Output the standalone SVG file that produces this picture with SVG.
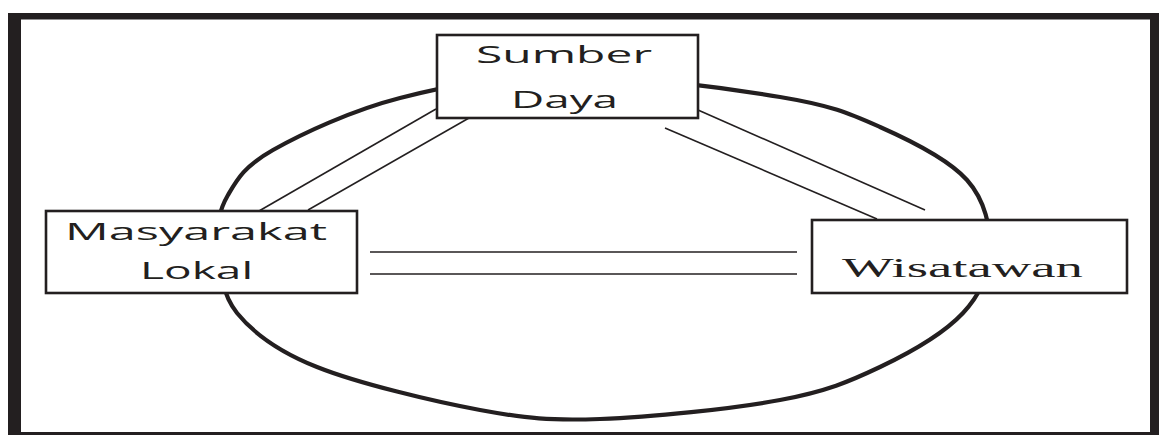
<svg xmlns="http://www.w3.org/2000/svg" width="1159" height="435" viewBox="0 0 1159 435">
<style>
.frame{fill:#231f20}
.ring{fill:none;stroke:#231f20;stroke-width:4.2;stroke-linejoin:round}
.conn line{stroke:#231f20;stroke-width:1.6}
.box{fill:#fff;stroke:#231f20;stroke-width:2.6}
.sans{font-family:"Open Sans","Noto Sans",sans-serif;font-size:24px;fill:#231f20}
.serif{font-family:"Liberation Serif","DejaVu Serif",serif;font-size:27px;fill:#231f20}
</style>
<rect width="1159" height="435" fill="#fff"/>
<g id="frame">
<rect class="frame" x="8" y="13" width="1151" height="6.5"/>
<rect class="frame" x="8" y="13" width="13" height="422"/>
<rect class="frame" x="1150" y="13" width="9" height="422"/>
<rect class="frame" x="8" y="432" width="1151" height="3"/>
</g>
<path id="ring" class="ring" d="M218,245 C216.5,225.3 218.8,210.8 228,195 C237.2,179.2 244.3,166.2 273,150 C301.7,133.8 351.3,110.5 400,98 C448.7,85.5 501.7,75.2 565,75 C628.3,74.8 727.5,88.3 780,97 C832.5,105.7 848.8,113.2 880,127 C911.2,140.8 948.7,159.5 967,180 C985.3,200.5 990.7,227.8 990,250 C989.3,272.2 981.3,293.5 963,313 C944.7,332.5 910.5,352.5 880,367 C849.5,381.5 826.7,391.3 780,400 C733.3,408.7 650,417.3 600,419 C550,420.7 527.2,418.7 480,410 C432.8,401.3 357.5,383.2 317,367 C276.5,350.8 253.5,333.3 237,313 C220.5,292.7 219.5,264.7 218,245 Z"/>
<g id="connectors" class="conn">
<line x1="259" y1="211" x2="436" y2="109"/>
<line x1="308" y1="210" x2="469" y2="118"/>
<line x1="698" y1="110" x2="925" y2="210"/>
<line x1="665" y1="128" x2="877" y2="219"/>
<line x1="370" y1="252" x2="797" y2="252"/>
<line x1="370" y1="274" x2="797" y2="274"/>
</g>
<g id="sumber-daya">
<rect class="box" x="437" y="35" width="261" height="83"/>
<text class="sans" x="476" y="63" textLength="176" lengthAdjust="spacingAndGlyphs">Sumber</text>
<text class="sans" x="511" y="108" textLength="107" lengthAdjust="spacingAndGlyphs">Daya</text>
</g>
<g id="masyarakat-lokal">
<rect class="box" x="46" y="211" width="311" height="82"/>
<text class="sans" x="65" y="240" textLength="262" lengthAdjust="spacingAndGlyphs">Masyarakat</text>
<text class="sans" x="140" y="279" textLength="113" lengthAdjust="spacingAndGlyphs">Lokal</text>
</g>
<g id="wisatawan">
<rect class="box" x="812" y="220" width="315" height="73"/>
<text class="serif" x="842" y="277" textLength="241" lengthAdjust="spacingAndGlyphs">Wisatawan</text>
</g>
</svg>
